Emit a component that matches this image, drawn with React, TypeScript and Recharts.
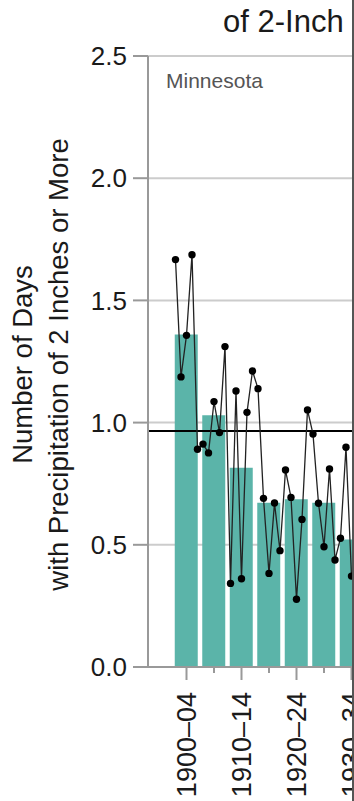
import React from "react";
import {
  ComposedChart,
  Bar,
  Line,
  XAxis,
  YAxis,
  CartesianGrid,
  ReferenceLine,
} from "recharts";

// ---- data ----
const periodStarts = [1900, 1905, 1910, 1915, 1920, 1925, 1930];
const periodAverages = [1.36, 1.03, 0.815, 0.672, 0.686, 0.672, 0.522];

const years = [
  1900, 1901, 1902, 1903, 1904, 1905, 1906, 1907, 1908, 1909,
  1910, 1911, 1912, 1913, 1914, 1915, 1916, 1917, 1918, 1919,
  1920, 1921, 1922, 1923, 1924, 1925, 1926, 1927, 1928, 1929,
  1930, 1931, 1932, 1933, 1934,
];
const annualValues = [
  1.667, 1.187, 1.357, 1.687, 0.891, 0.912, 0.876, 1.086, 0.959, 1.311,
  0.342, 1.129, 0.361, 1.042, 1.211, 1.139, 0.69, 0.383, 0.671, 0.476,
  0.806, 0.694, 0.277, 0.604, 1.052, 0.953, 0.67, 0.492, 0.81, 0.438,
  0.527, 0.899, 0.372, 0.45, 0.36,
];
const longTermAverage = 0.966;

const yTicks = [0, 0.5, 1.0, 1.5, 2.0, 2.5];
const titleText = "of 2-Inch";
const stateLabel = "Minnesota";
const yTitleLines = ["Number of Days", "with Precipitation of 2 Inches or More"];

// ---- derived tables ----
const periodLabel = (s: number) =>
  `${s}–${String((s + 4) % 100).padStart(2, "0")}`;

const barData = periodStarts.map((s, i) => ({
  mid: s + 2,
  start: s,
  label: periodLabel(s),
  value: periodAverages[i],
}));
const lineData = years.map((y, i) => ({ year: y, value: annualValues[i] }));
const xTicks = barData.map((d) => d.mid);
const labelByMid: Record<number, string> = {};
barData.forEach((d, i) => {
  labelByMid[d.mid] = i % 2 === 0 ? d.label : "";
});

const FONT = "'Liberation Sans', Arial, Helvetica, sans-serif";
const AXIS_GRAY = "#999";
const BAR_COLOR = "#5BB4A9";

const XTick = (props: any) => {
  const { x, y, payload } = props;
  const label = labelByMid[payload.value];
  const major = !!label;
  return (
    <g>
      <line
        x1={x}
        x2={x}
        y1={y}
        y2={y + (major ? 13 : 6)}
        stroke={AXIS_GRAY}
        strokeWidth={2}
      />
      {major && (
        <text
          x={x}
          y={y + 25}
          transform={`rotate(-90, ${x}, ${y + 25})`}
          textAnchor="end"
          dy="0.35em"
          fontSize={27}
          fontFamily={FONT}
          fill="#1a1a1a"
        >
          {label}
        </text>
      )}
    </g>
  );
};

const YTitle = (props: any) => {
  const vb = props.viewBox || { x: 0, y: 56, width: 148, height: 611 };
  const cy = vb.y + vb.height / 2 + 3;
  const x1 = vb.x + 32;
  const x2 = vb.x + 68;
  return (
    <g>
      <text
        x={x1}
        y={cy}
        transform={`rotate(-90, ${x1}, ${cy})`}
        textAnchor="middle"
        fontSize={27.5}
        fontFamily={FONT}
        fill="#1a1a1a"
      >
        {yTitleLines[0]}
      </text>
      <text
        x={x2}
        y={cy}
        transform={`rotate(-90, ${x2}, ${cy})`}
        textAnchor="middle"
        fontSize={27.5}
        fontFamily={FONT}
        fill="#1a1a1a"
      >
        {yTitleLines[1]}
      </text>
    </g>
  );
};

export default function App() {
  return (
    <div
      style={{
        position: "absolute",
        left: 0,
        top: 0,
        width: 354,
        height: 801,
        overflow: "hidden",
        background: "#fff",
      }}
    >
      <ComposedChart
        width={863}
        height={801}
        data={barData}
        margin={{ top: 56, right: 0, bottom: 0, left: 0 }}
      >
        <CartesianGrid
          horizontal
          vertical={false}
          stroke="#cccccc"
          strokeWidth={2}
        />
        <XAxis
          xAxisId="bars"
          dataKey="mid"
          type="number"
          domain={[1895, 2025]}
          allowDataOverflow
          ticks={xTicks}
          interval={0}
          tickSize={0}
          tickMargin={0}
          tickLine={false}
          tick={<XTick />}
          height={134}
          axisLine={{ stroke: AXIS_GRAY, strokeWidth: 2 }}
        />
        <XAxis
          xAxisId="years"
          dataKey="year"
          type="number"
          domain={[1895, 2025]}
          allowDataOverflow
          hide
        />
        <YAxis
          type="number"
          domain={[0, 2.5]}
          ticks={yTicks}
          interval={0}
          width={148}
          tickSize={15}
          tickMargin={6}
          tickFormatter={(v: number) => v.toFixed(1)}
          tick={{ fontSize: 26, fontFamily: FONT, fill: "#1a1a1a" }}
          tickLine={{ stroke: AXIS_GRAY, strokeWidth: 2 }}
          axisLine={{ stroke: AXIS_GRAY, strokeWidth: 2 }}
          label={(p: any) => <YTitle {...p} />}
        />
        <Bar
          xAxisId="bars"
          dataKey="value"
          fill={BAR_COLOR}
          barSize={23}
          isAnimationActive={false}
        />
        <ReferenceLine
          xAxisId="bars"
          y={longTermAverage}
          stroke="#000"
          strokeWidth={2}
        />
        <Line
          xAxisId="years"
          data={lineData}
          dataKey="value"
          type="linear"
          stroke="#222"
          strokeWidth={1.3}
          dot={{ r: 3.7, fill: "#000", stroke: "#000", strokeWidth: 0 }}
          activeDot={false}
          isAnimationActive={false}
        />
      </ComposedChart>
      <svg
        width={354}
        height={801}
        style={{ position: "absolute", left: 0, top: 0, pointerEvents: "none" }}
      >
        <text
          x={223}
          y={32}
          fontSize={31}
          fontFamily={FONT}
          fill="#1a1a1a"
        >
          {titleText}
        </text>
        <text x={166} y={88} fontSize={21} fontFamily={FONT} fill="#555">
          {stateLabel}
        </text>
      </svg>
      <div
        style={{
          position: "absolute",
          left: 352,
          top: 0,
          width: 2,
          height: 801,
          background: "#555",
        }}
      />
    </div>
  );
}
